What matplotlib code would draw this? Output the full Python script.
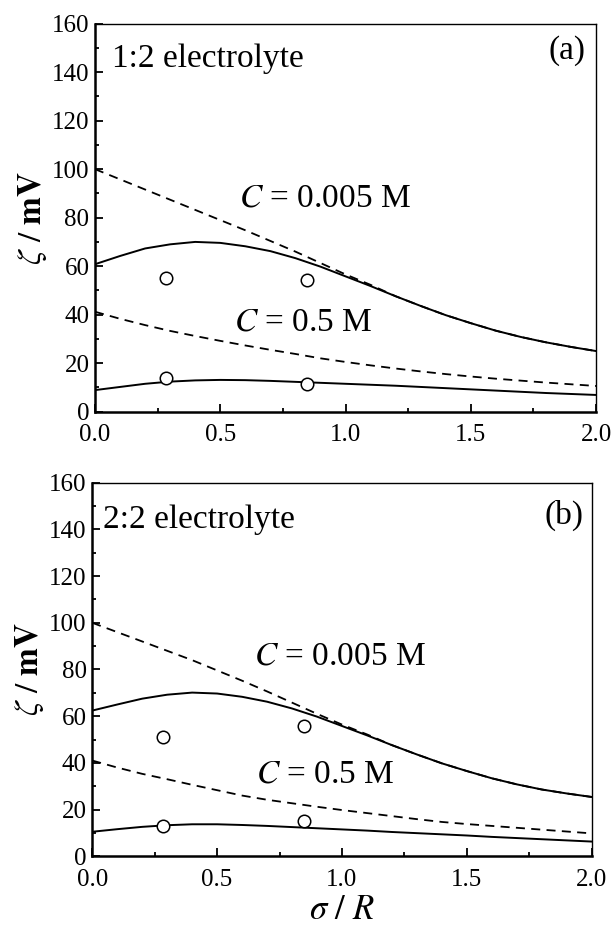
import matplotlib
matplotlib.use("Agg")
import matplotlib.pyplot as plt
from matplotlib.ticker import MultipleLocator

plt.rcParams['font.family'] = ['Liberation Serif', 'DejaVu Serif']
plt.rcParams['mathtext.fontset'] = 'stix'

sigma_r = [0.0, 0.1, 0.2, 0.3, 0.4, 0.5, 0.6, 0.7, 0.8, 0.9, 1.0,
           1.1, 1.2, 1.3, 1.4, 1.5, 1.6, 1.7, 1.8, 1.9, 2.0]

# panel (a): 1:2 electrolyte
a_solid_low_c = [60.8, 64.2, 67.3, 69.0, 70.0, 69.6, 68.2, 66.2, 63.3, 59.8, 55.8,
                 51.8, 47.6, 43.6, 39.8, 36.5, 33.4, 30.8, 28.6, 26.7, 25.0]
a_dash_low_c = [100.0, 95.8, 91.6, 87.4, 83.2, 79.0, 74.8, 70.4, 66.0, 61.3, 56.6,
                52.3, 47.6, 43.6, 39.8, 36.5, 33.4, 30.8, 28.6, 26.7, 25.0]
a_solid_high_c = [8.9, 10.2, 11.5, 12.4, 12.9, 13.1, 13.0, 12.7, 12.3, 11.9, 11.5,
                  11.1, 10.7, 10.2, 9.7, 9.2, 8.7, 8.2, 7.7, 7.3, 6.9]
a_dash_high_c = [41.2, 38.3, 35.7, 33.3, 31.2, 29.2, 27.3, 25.5, 23.8, 22.0, 20.5,
                 19.1, 17.8, 16.6, 15.5, 14.5, 13.6, 12.8, 12.0, 11.3, 10.6]
a_exp_x = [0.283, 0.845, 0.283, 0.845]
a_exp_y = [55.3, 54.3, 14.0, 11.4]

# panel (b): 2:2 electrolyte
b_solid_low_c = [62.4, 65.0, 67.5, 69.2, 70.1, 69.7, 68.3, 66.2, 63.3, 59.8, 55.8,
                 51.8, 47.6, 43.6, 39.8, 36.5, 33.4, 30.8, 28.6, 26.9, 25.4]
b_dash_low_c = [100.0, 96.0, 92.0, 88.0, 84.0, 79.6, 75.2, 70.6, 65.8, 61.0, 56.4,
                52.2, 47.6, 43.6, 39.8, 36.5, 33.4, 30.8, 28.6, 26.9, 25.4]
b_solid_high_c = [10.5, 11.6, 12.6, 13.3, 13.7, 13.7, 13.4, 13.0, 12.5, 12.0, 11.5,
                  11.0, 10.4, 9.9, 9.4, 8.9, 8.3, 7.8, 7.3, 6.8, 6.3]
b_dash_high_c = [41.0, 38.0, 35.3, 33.0, 30.6, 28.3, 26.0, 24.2, 22.7, 21.2, 19.8,
                 18.5, 17.2, 15.9, 14.7, 13.8, 13.0, 12.2, 11.4, 10.6, 9.8]
b_exp_x = [0.284, 0.846, 0.284, 0.846]
b_exp_y = [51.2, 55.8, 12.8, 15.2]


def draw_panel(ax, solid_lo, dash_lo, solid_hi, dash_hi, ex, ey,
               title, tag, lab_lo, lab_hi, tpos):
    ax.plot(sigma_r, solid_lo, color='black', lw=1.4)
    ax.plot(sigma_r, dash_lo, color='black', lw=1.3, dashes=(5, 3.5))
    ax.plot(sigma_r, solid_hi, color='black', lw=1.4)
    ax.plot(sigma_r, dash_hi, color='black', lw=1.3, dashes=(5, 3.5))
    ax.plot(ex, ey, 'o', ms=9, mfc='white', mec='black', mew=1.1, zorder=5)

    ax.set_xlim(0, 2.0)
    ax.set_ylim(0, 160)
    ax.xaxis.set_major_locator(MultipleLocator(0.5))
    ax.xaxis.set_minor_locator(MultipleLocator(0.25))
    ax.yaxis.set_major_locator(MultipleLocator(20))
    ax.yaxis.set_minor_locator(MultipleLocator(10))
    ax.set_xticks([0, 0.5, 1.0, 1.5, 2.0])
    ax.set_xticklabels(['0.0', '0.5', '1.0', '1.5', '2.0'])
    ax.tick_params(which='both', direction='in', labelsize=18, width=1.3)
    ax.tick_params(which='major', length=6)
    ax.tick_params(which='minor', length=3)
    ax.tick_params(axis='x', pad=9)
    ax.tick_params(axis='y', pad=4)
    for s in ['left', 'bottom']:
        ax.spines[s].set_linewidth(1.8)
    for s in ['top', 'right']:
        ax.spines[s].set_linewidth(1.0)

    ax.set_ylabel(r'$\zeta\ /\ \mathbf{mV}$', fontsize=24, labelpad=2)
    ax.text(tpos[0], tpos[1], title, fontsize=24, va='baseline', ha='left')
    ax.text(tpos[2], tpos[3], tag, fontsize=24, va='center', ha='right')
    ax.text(lab_hi[0], lab_hi[1], r'$C$ = 0.005 M', fontsize=24, va='center', ha='left')
    ax.text(lab_lo[0], lab_lo[1], r'$C$ = 0.5 M', fontsize=24, va='center', ha='left')


fig = plt.figure(figsize=(6.11, 9.27), dpi=100)
ax1 = fig.add_axes([0.1555, 0.5559, 0.820, 0.4186])
ax2 = fig.add_axes([0.151, 0.0763, 0.8174, 0.403])

draw_panel(ax1, a_solid_low_c, a_dash_low_c, a_solid_high_c, a_dash_high_c,
           a_exp_x, a_exp_y, '1:2 electrolyte', '(a)',
           (0.555, 36.8), (0.575, 88.0), (0.067, 142.0, 1.956, 148.7))
draw_panel(ax2, b_solid_low_c, b_dash_low_c, b_solid_high_c, b_dash_high_c,
           b_exp_x, b_exp_y, '2:2 electrolyte', '(b)',
           (0.654, 35.2), (0.648, 85.6), (0.044, 140.5, 1.969, 146.2))
ax2.set_xlabel(r'$\sigma\ /\ R$', fontsize=25, labelpad=2)

fig.savefig('out.png', dpi=100)
